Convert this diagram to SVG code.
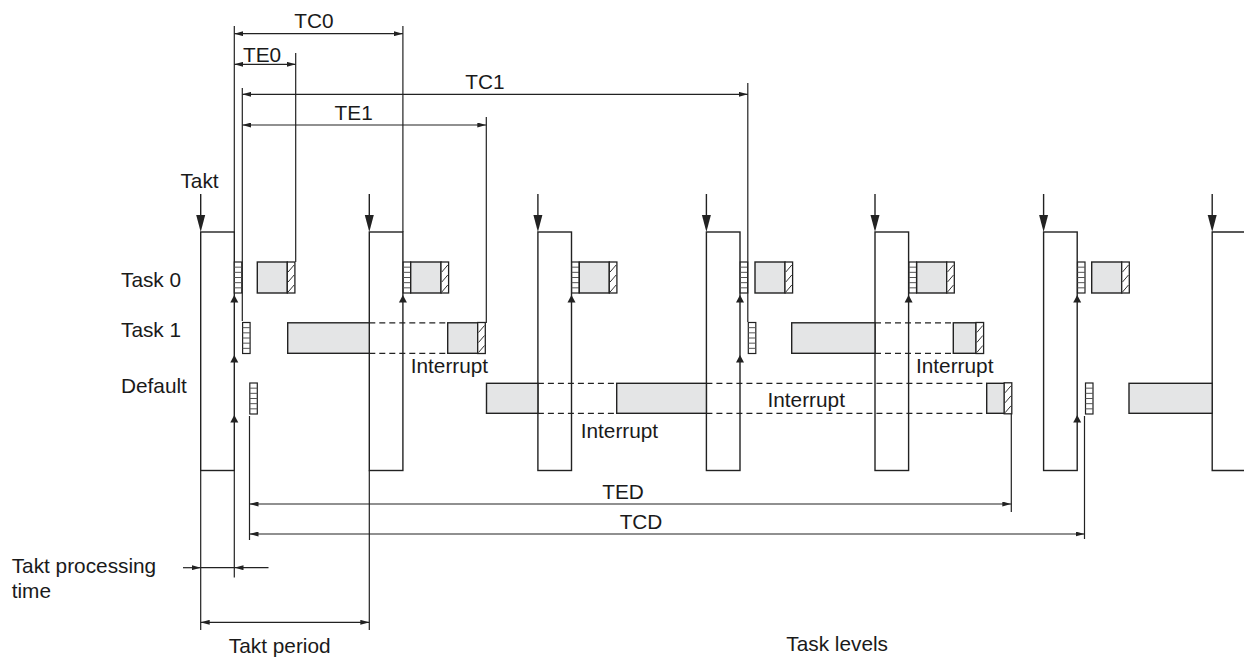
<svg xmlns="http://www.w3.org/2000/svg" xmlns:xlink="http://www.w3.org/1999/xlink" width="1244" height="657" viewBox="0 0 1244 657">
<style>
.blk{fill:#fff;stroke:#222;stroke-width:1.4}
.ln{stroke:#222;stroke-width:1.2;fill:none}
.dim{stroke:#222;stroke-width:1.2;fill:none;marker-start:url(#ah);marker-end:url(#ah)}
.one{stroke:#222;stroke-width:1.2;fill:none;marker-end:url(#ah)}
.gray{fill:#e4e5e6;stroke:#222;stroke-width:1.4}
.dash{stroke:#222;stroke-width:1.2;stroke-dasharray:6 4;fill:none}
.ar{fill:#222}
text{font-family:"Liberation Sans",Arial,Helvetica,sans-serif;font-size:20.8px;fill:#1a1a1a}
.mid{text-anchor:middle}
</style>
<defs>
<marker id="ah" viewBox="0 0 9 5" refX="9" refY="2.5" markerWidth="9" markerHeight="5" markerUnits="userSpaceOnUse" orient="auto-start-reverse"><path d="M0,0 L9,2.5 L0,5z" fill="#222"/></marker>
<g id="stp"><rect width="7.5" height="31" fill="#fff" stroke="#222" stroke-width="1.2"/><path d="M0,5.17h7.5M0,10.33h7.5M0,15.5h7.5M0,20.67h7.5M0,25.83h7.5" stroke="#555" stroke-width="1"/></g>
<g id="hat"><rect width="7.6" height="31" fill="#fff" stroke="#222" stroke-width="1.3"/><path d="M0.8,10 L6.8,3 M0.8,20 L6.8,13 M0.8,30 L6.8,23" stroke="#333" stroke-width="1"/></g>
<path id="up" d="M0,0 L4,7.5 L-4,7.5z"/>
<g id="takt"><path d="M0,194 V216" stroke="#222" stroke-width="1.4"/><path d="M-4.5,215 L4.5,215 L0,232z" fill="#222"/></g>
</defs>
<rect width="1244" height="657" fill="#fff"/>

<g id="takt-blocks">
<g id="takt-1"><rect class="blk" x="200.7" y="232" width="33.6" height="238.5"/><use href="#takt" x="200.7"/></g>
<g id="takt-2"><rect class="blk" x="369.3" y="232" width="33.6" height="238.5"/><use href="#takt" x="369.3"/></g>
<g id="takt-3"><rect class="blk" x="537.9" y="232" width="33.6" height="238.5"/><use href="#takt" x="537.9"/></g>
<g id="takt-4"><rect class="blk" x="706.4" y="232" width="33.6" height="238.5"/><use href="#takt" x="706.4"/></g>
<g id="takt-5"><rect class="blk" x="875" y="232" width="33.6" height="238.5"/><use href="#takt" x="875"/></g>
<g id="takt-6"><rect class="blk" x="1043.6" y="232" width="33.6" height="238.5"/><use href="#takt" x="1043.6"/></g>
<g id="takt-7"><path class="blk" d="M1250,232 H1212.2 V470.5 H1250"/><use href="#takt" x="1212.2"/></g>
</g>

<g id="task0">
<use href="#stp" x="234.3" y="262"/><rect class="gray" x="257.3" y="262" width="30" height="31"/><use href="#hat" x="287.3" y="262"/>
<use href="#stp" x="403.2" y="262"/><rect class="gray" x="410.7" y="262" width="30.3" height="31"/><use href="#hat" x="441" y="262"/>
<use href="#stp" x="571.7" y="262"/><rect class="gray" x="579.3" y="262" width="30" height="31"/><use href="#hat" x="609.3" y="262"/>
<use href="#stp" x="740.2" y="262"/><rect class="gray" x="755" y="262" width="30" height="31"/><use href="#hat" x="785" y="262"/>
<use href="#stp" x="909" y="262"/><rect class="gray" x="916.7" y="262" width="30" height="31"/><use href="#hat" x="946.7" y="262"/>
<use href="#stp" x="1077.5" y="262"/><rect class="gray" x="1091.7" y="262" width="30" height="31"/><use href="#hat" x="1121.7" y="262"/>
</g>

<g id="task1">
<use href="#stp" x="242.6" y="322.5"/><use href="#stp" x="748.3" y="322.5"/>
<rect class="gray" x="287.7" y="322.8" width="81.6" height="30.5"/>
<path class="dash" d="M369.3,322.8 H447.7 M369.3,353.3 H447.7"/>
<rect class="gray" x="447.7" y="322.8" width="30" height="30.5"/><use href="#hat" x="477.7" y="322.5" transform="translate(0,0)"/>
<rect class="gray" x="791.7" y="322.8" width="83.3" height="30.5"/>
<path class="dash" d="M875,322.8 H953.3 M875,353.3 H953.3"/>
<rect class="gray" x="953.3" y="322.8" width="22.7" height="30.5"/><use href="#hat" x="976" y="322.5"/>
</g>

<g id="default">
<use href="#stp" x="249.8" y="383"/><use href="#stp" x="1085.5" y="383"/>
<rect class="gray" x="486.5" y="383.3" width="51.4" height="30"/>
<path class="dash" d="M537.9,383.3 H616.7 M537.9,413.3 H616.7"/>
<rect class="gray" x="616.7" y="383.3" width="89.7" height="30"/>
<path class="dash" d="M706.4,383.3 H986.7 M706.4,413.3 H986.7"/>
<rect class="gray" x="986.7" y="383.3" width="17.8" height="30"/><use href="#hat" x="1004.2" y="382.8"/>
<rect class="gray" x="1129" y="383.3" width="83.2" height="30"/>
</g>

<g id="connectors">
<g class="ar">
<use href="#up" x="234.3" y="295"/><use href="#up" x="234.3" y="355"/><use href="#up" x="234.3" y="415"/>
<use href="#up" x="402.9" y="295"/>
<use href="#up" x="571.5" y="295"/>
<use href="#up" x="740" y="295"/><use href="#up" x="740" y="355"/>
<use href="#up" x="908.6" y="295"/>
<use href="#up" x="1077.2" y="295"/><use href="#up" x="1077.2" y="415"/>
</g>
<path class="ln" d="M234.3,26 V232 M242.3,88 V321 M295.7,53 V262 M402.9,26 V232 M486.3,117 V323 M747.8,83 V322 M249.5,416 V540 M1011.3,414 V512 M1084.5,416 V539 M200.7,470.5 V630 M234.3,470.5 V577.5 M369.3,470.5 V630 M201,567.7 H235"/>
<path class="dim" d="M234.3,33.7 H402.9"/>
<path class="dim" d="M234.3,64.3 H295.7"/>
<path class="dim" d="M242.3,94.3 H747.8"/>
<path class="dim" d="M242.3,125 H486.3"/>
<path class="dim" d="M249.5,504 H1011.3"/>
<path class="dim" d="M249.5,534 H1084.5"/>
<path class="dim" d="M200.7,622.3 H369.3"/>
<path class="one" d="M183,567.7 H200.7"/>
<path class="one" d="M268.5,567.7 H234.5"/>
</g>

<g id="labels">
<text class="mid" x="199.5" y="188">Takt</text>
<text class="mid" x="314" y="28.3">TC0</text>
<text class="mid" x="262" y="61.7">TE0</text>
<text class="mid" x="485" y="89.3">TC1</text>
<text class="mid" x="353.7" y="119.5">TE1</text>
<text class="mid" x="623" y="498.5">TED</text>
<text class="mid" x="641" y="528.5">TCD</text>
<text x="121" y="286.7">Task 0</text>
<text x="121" y="336.7">Task 1</text>
<text x="121" y="393.3">Default</text>
<text x="410.7" y="372.7">Interrupt</text>
<text x="916" y="372.7">Interrupt</text>
<text x="767.5" y="406.5">Interrupt</text>
<text x="580.7" y="438.3">Interrupt</text>
<text x="11.7" y="573">Takt processing</text>
<text x="11.7" y="598.3">time</text>
<text class="mid" x="279.7" y="653.3">Takt period</text>
<text x="888" y="650.7" text-anchor="end">Task levels</text>
</g>
</svg>
